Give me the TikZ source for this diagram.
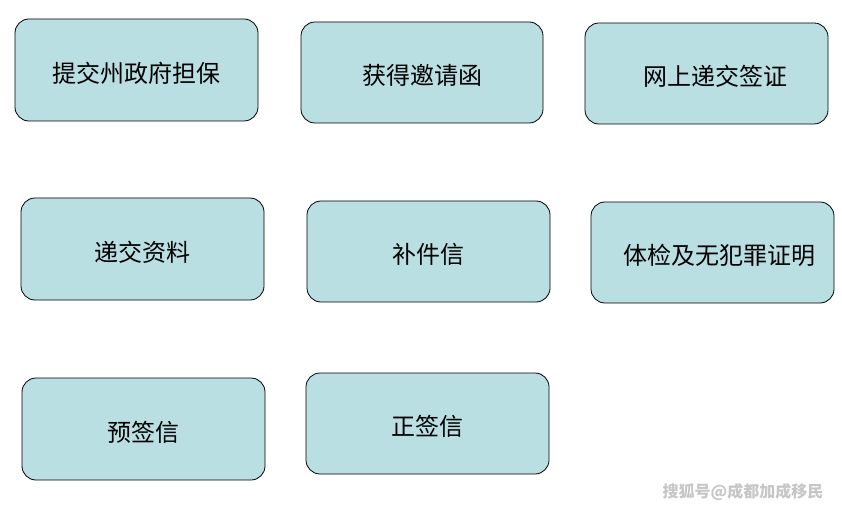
\documentclass[tikz,border=0pt]{standalone}
\usepackage{fontspec}
\newfontfamily\cjk{Noto Sans CJK SC}
\definecolor{boxfill}{HTML}{BADFE2}
\begin{document}
\begin{tikzpicture}[x=1pt,y=-1pt,
  boxstyle/.style={draw=black,fill=boxfill,rounded corners=14pt,line width=0.8pt},
  lbl/.style={font=\cjk\fontsize{24}{27}\selectfont}]
\useasboundingbox (0,0) rectangle (842,510);
\def\bx#1#2#3#4#5#6#7{\draw[boxstyle] (#2,#3) rectangle (#4,#5);
  \node[lbl] (#1) at ({(#2+#4)/2+#6},{(#3+#5)/2+3}) {#7};}
\bx{a}{15}{19}{258}{121}{0}{提交州政府担保}
\bx{b}{301}{22}{543}{123}{0}{获得邀请函}
\bx{c}{585}{23}{828}{124}{9}{网上递交签证}
\bx{d}{21}{198}{264}{300}{0}{递交资料}
\bx{e}{307}{201}{550}{302}{0}{补件信}
\bx{f}{591}{202}{834}{303}{7}{体检及无犯罪证明}
\bx{g}{22}{378}{265}{480}{0}{预签信}
\bx{h}{306}{373}{549}{474}{0}{正签信}
\node[font=\cjk\bfseries\fontsize{16}{18}\selectfont,text=gray!45] (w) at (743,492) {搜狐号@成都加成移民};
\end{tikzpicture}
\end{document}
